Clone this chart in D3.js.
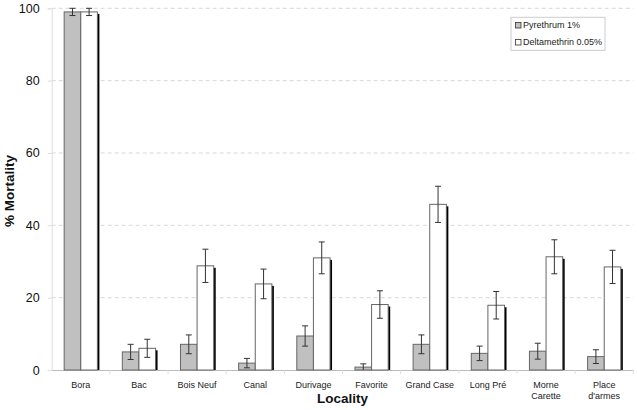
<!DOCTYPE html>
<html>
<head>
<meta charset="utf-8">
<script src="https://cdn.jsdelivr.net/npm/d3@7"></script>
<style>
  body { margin: 0; background: #fff; }
  svg { display: block; font-family: "Liberation Sans", Arial, sans-serif; }
</style>
</head>
<body>
<svg id="chart" width="637" height="410"></svg>
<script>
const localities = ["Bora", "Bac", "Bois Neuf", "Canal", "Durivage", "Favorite", "Grand Case", "Long Pré", "Morne Carette", "Place d'armes"];
const seriesNames = ["Pyrethrum 1%", "Deltamethrin 0.05%"];
const pyrethrum = [99, 5, 7.1, 1.9, 9.4, 0.8, 7.1, 4.6, 5.2, 3.7];
const pyrethrumErr = [1, 2.1, 2.6, 1.3, 2.8, 0.9, 2.6, 2.0, 2.2, 1.9];
const deltamethrin = [99, 6, 28.8, 23.8, 31.0, 18.1, 45.8, 17.9, 31.3, 28.5];
const deltamethrinErr = [1, 2.5, 4.6, 4.1, 4.4, 3.8, 5.0, 3.8, 4.7, 4.6];
const yTicks = [0, 20, 40, 60, 80, 100];
const seriesFill = ["#c0c0c0", "#ffffff"];

const svg = d3.select("#chart");
const mLeft = 51.7, mRight = 633.3, mTop = 8.3, mBottom = 370;

const x0 = d3.scaleBand().domain(localities).range([mLeft, mRight]).paddingInner(0).paddingOuter(0);
const x1 = d3.scaleBand().domain(seriesNames).range([0, x0.bandwidth()]).paddingInner(0).paddingOuter(0.75);
const y = d3.scaleLinear().domain([0, 100]).range([mBottom, mTop]);

// gridlines
svg.append("g").selectAll("line").data(yTicks.filter(d => d > 0)).join("line")
  .attr("x1", mLeft).attr("x2", mRight)
  .attr("y1", d => y(d)).attr("y2", d => y(d))
  .attr("stroke", "#d8d8d8").attr("stroke-dasharray", "4,3").attr("stroke-width", 1);

// y axis
const yAxis = svg.append("g").attr("transform", `translate(${mLeft},0)`)
  .call(d3.axisLeft(y).tickValues(yTicks).tickSize(4).tickPadding(8));
yAxis.select(".domain").attr("stroke", "#ddd");
yAxis.selectAll(".tick line").attr("stroke", "#ddd");
yAxis.selectAll(".tick text").attr("font-size", "12.5px").attr("fill", "#111")
  .attr("font-family", "Liberation Sans, Arial, sans-serif");

// x axis
const xAxis = svg.append("g").attr("transform", `translate(0,${mBottom})`)
  .call(d3.axisBottom(x0).tickSize(0).tickPadding(12));
xAxis.select(".domain").attr("stroke", "#bbb");
xAxis.selectAll(".tick text").attr("font-size", "9px").attr("fill", "#222")
  .attr("font-family", "Liberation Sans, Arial, sans-serif");
// boundary ticks
const bounds = localities.map(d => x0(d)).concat([mRight]).slice(1);
svg.append("g").selectAll("line").data(bounds).join("line")
  .attr("x1", d => d).attr("x2", d => d).attr("y1", mBottom).attr("y2", mBottom + 4)
  .attr("stroke", "#ddd");

// wrap labels
xAxis.selectAll(".tick text").each(function(d) {
  const t = d3.select(this);
  const words = d.split(" ");
  if (d.length > 11 && words.length > 1) {
    t.text(null);
    words.forEach((w, i) => {
      t.append("tspan").attr("x", 0).attr("dy", i === 0 ? "0.71em" : "1.2em").text(w);
    });
    t.attr("dy", null);
  }
});

const data = [pyrethrum, deltamethrin];
const errs = [pyrethrumErr, deltamethrinErr];

seriesNames.forEach((s, si) => {
  const g = svg.append("g");
  g.selectAll("rect.shadow").data(localities).join("rect").attr("class", "shadow")
    .attr("x", (d) => x0(d) + x1(s) + 2)
    .attr("y", (d, i) => y(data[si][i]) + 2)
    .attr("width", x1.bandwidth())
    .attr("height", (d, i) => Math.max(0, mBottom - y(data[si][i]) - 2))
    .attr("fill", "#000");
  g.selectAll("rect.bar").data(localities).join("rect").attr("class", "bar")
    .attr("x", (d) => x0(d) + x1(s))
    .attr("y", (d, i) => y(data[si][i]))
    .attr("width", x1.bandwidth())
    .attr("height", (d, i) => mBottom - y(data[si][i]))
    .attr("fill", seriesFill[si])
    .attr("stroke", "#666").attr("stroke-width", 1);
});

// error bars
seriesNames.forEach((s, si) => {
  const g = svg.append("g").attr("stroke", "#333").attr("stroke-width", 1);
  localities.forEach((d, i) => {
    const cx = x0(d) + x1(s) + x1.bandwidth() / 2;
    const v = data[si][i], e = errs[si][i];
    const y1 = y(Math.min(100, v + e)), y2 = y(Math.max(0, v - e));
    g.append("line").attr("x1", cx).attr("x2", cx).attr("y1", y1).attr("y2", y2);
    g.append("line").attr("x1", cx - 3).attr("x2", cx + 3).attr("y1", y1).attr("y2", y1);
    if (v - e > 0) g.append("line").attr("x1", cx - 3).attr("x2", cx + 3).attr("y1", y2).attr("y2", y2);
  });
});

// axis titles
svg.append("text").attr("x", (mLeft + mRight) / 2).attr("y", 403)
  .attr("text-anchor", "middle").attr("font-weight", "bold").attr("font-size", "13.5px")
  .attr("fill", "#111").text("Locality");
svg.append("text").attr("transform", "translate(14,191) rotate(-90)")
  .attr("text-anchor", "middle").attr("font-weight", "bold").attr("font-size", "13.5px")
  .attr("fill", "#111").text("% Mortality");

// legend
const lg = svg.append("g");
lg.append("rect").attr("x", 511).attr("y", 17.3).attr("width", 94).attr("height", 33)
  .attr("fill", "#fff").attr("stroke", "#ccc");
seriesNames.forEach((s, i) => {
  const yy = 22.5 + i * 17;
  lg.append("rect").attr("x", 515.5).attr("y", yy).attr("width", 5.5).attr("height", 5.5)
    .attr("fill", seriesFill[i]).attr("stroke", "#333").attr("stroke-width", 0.8);
  lg.append("text").attr("x", 523).attr("y", yy + 5.8).attr("font-size", "9px")
    .attr("fill", "#222").text(s);
});
</script>
</body>
</html>
